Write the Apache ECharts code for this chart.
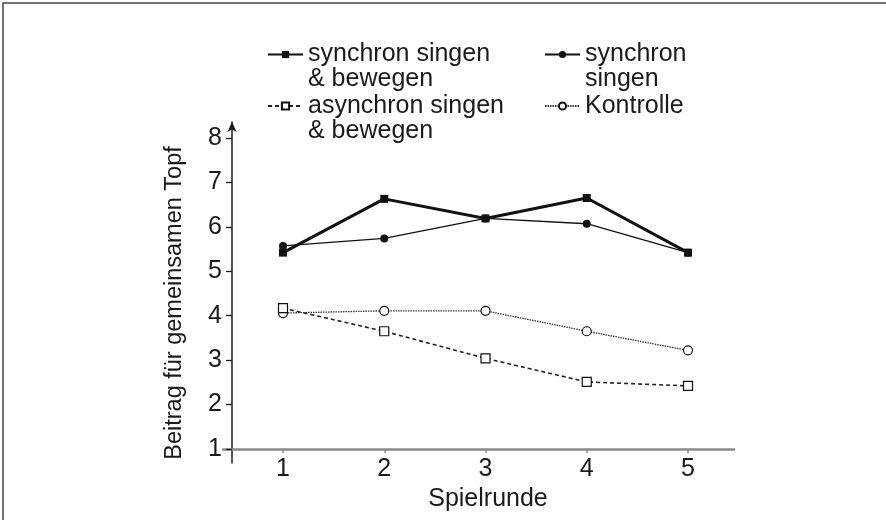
<!DOCTYPE html>
<html>
<head>
<meta charset="utf-8">
<script src="https://cdn.jsdelivr.net/npm/echarts@6/dist/echarts.min.js"></script>
<style>
html, body { margin: 0; background: #fff; }
#chart { width: 886px; height: 520px; }
</style>
</head>
<body>
<div id="chart"></div>
<script>
// Spielrunden und Mittelwerte
var rounds = [1, 2, 3, 4, 5];
var yTicks = [1, 2, 3, 4, 5, 6, 7, 8];
var syncMove = [5.42, 6.63, 6.19, 6.65, 5.42];
var syncSing = [5.57, 5.74, 6.19, 6.07, 5.42];
var asyncMove = [4.17, 3.65, 3.04, 2.51, 2.42];
var control = [4.06, 4.11, 4.11, 3.65, 3.22];
var names = ['synchron singen\n& bewegen', 'synchron\nsingen', 'asynchron singen\n& bewegen', 'Kontrolle'];

var font = 'Liberation Sans',
    ink = '#1a1a1a',
    grey = '#8a8a8a';

var pairs = function (values) {
    return rounds.map(function (r, i) { return [r, values[i]]; });
};

// two-line names get an empty first line so that the icon sits on the first text line
var legend = function (name, left, top, twoLines) {
    return {
        data: [name],
        left: left,
        top: top,
        padding: 0,
        itemWidth: 35,
        itemHeight: 9,
        selectedMode: false,
        formatter: function (n) { return twoLines ? '\n' + n : n; },
        textStyle: { fontFamily: font, fontSize: 25, lineHeight: 25, color: ink }
    };
};

var line = function (name, values, opts) {
    return {
        name: name,
        type: 'line',
        xAxisIndex: 0,
        yAxisIndex: 0,
        data: pairs(values),
        symbol: opts.symbol,
        symbolSize: opts.size,
        showSymbol: true,
        z: opts.z,
        lineStyle: { color: opts.color, width: opts.width, type: opts.type },
        itemStyle: { color: opts.fill, borderColor: '#111', borderWidth: opts.border },
        emphasis: { disabled: true },
        animation: false
    };
};

var chart = echarts.init(document.getElementById('chart'));

chart.setOption({
    backgroundColor: '#fff',
    animation: false,
    textStyle: { fontFamily: font },
    graphic: [{
        type: 'rect',
        shape: { x: 3, y: 3, width: 1000, height: 1000 },
        style: { fill: 'none', stroke: '#444', lineWidth: 1.5 },
        silent: true
    }],
    legend: [
        legend(names[0], 267, 17, true),
        legend(names[1], 544, 17, true),
        legend(names[2], 267, 68.5, true),
        legend(names[3], 544, 93.5, false)
    ],
    grid: [
        { left: 223, right: 152, top: 138, bottom: 71 },
        { left: 232, right: 152, top: 122, bottom: 57 }
    ],
    xAxis: [{
        gridIndex: 0,
        type: 'value',
        min: 0.4074,
        max: 5.4543,
        axisLine: { onZero: false, lineStyle: { color: grey, width: 2.5 } },
        axisTick: { customValues: rounds, length: 4, lineStyle: { color: grey, width: 1.5 } },
        axisLabel: { customValues: rounds, margin: 8, fontSize: 25, color: ink, fontFamily: font },
        splitLine: { show: false },
        name: 'Spielrunde',
        nameLocation: 'middle',
        nameGap: 25,
        nameTextStyle: { fontSize: 25, color: ink, fontFamily: font, padding: [0, 0, 0, 19] }
    }, {
        gridIndex: 1,
        type: 'value',
        min: 0,
        max: 1,
        show: false
    }],
    yAxis: [{
        gridIndex: 0,
        type: 'value',
        min: 1,
        max: 8,
        show: false
    }, {
        gridIndex: 1,
        type: 'value',
        min: 0.6849,
        max: 8.360,
        axisLine: {
            show: true,
            symbol: ['none', 'arrow'],
            symbolSize: [7, 10],
            lineStyle: { color: ink, width: 1.5 }
        },
        axisTick: { show: true, customValues: yTicks, length: 6, lineStyle: { color: ink, width: 1.3 } },
        axisLabel: { customValues: yTicks, margin: 10, fontSize: 25, color: ink, fontFamily: font },
        splitLine: { show: false },
        name: 'Beitrag für gemeinsamen Topf',
        nameLocation: 'middle',
        nameGap: 45,
        nameTextStyle: { fontSize: 23.5, color: ink, fontFamily: font, padding: [0, 21, 0, 0] }
    }],
    series: [
        line(names[3], control, { symbol: 'circle', size: 9, color: '#333', width: 1.3, type: [1.5, 1], fill: '#fff', border: 1.2, z: 2 }),
        line(names[2], asyncMove, { symbol: 'rect', size: 9, color: '#222', width: 1.6, type: [4, 3], fill: '#fff', border: 1.2, z: 3 }),
        line(names[1], syncSing, { symbol: 'circle', size: 8, color: '#111', width: 1.3, type: 'solid', fill: '#111', border: 0, z: 4 }),
        line(names[0], syncMove, { symbol: 'rect', size: 8, color: '#111', width: 3, type: 'solid', fill: '#111', border: 0, z: 5 })
    ]
});
</script>
</body>
</html>
